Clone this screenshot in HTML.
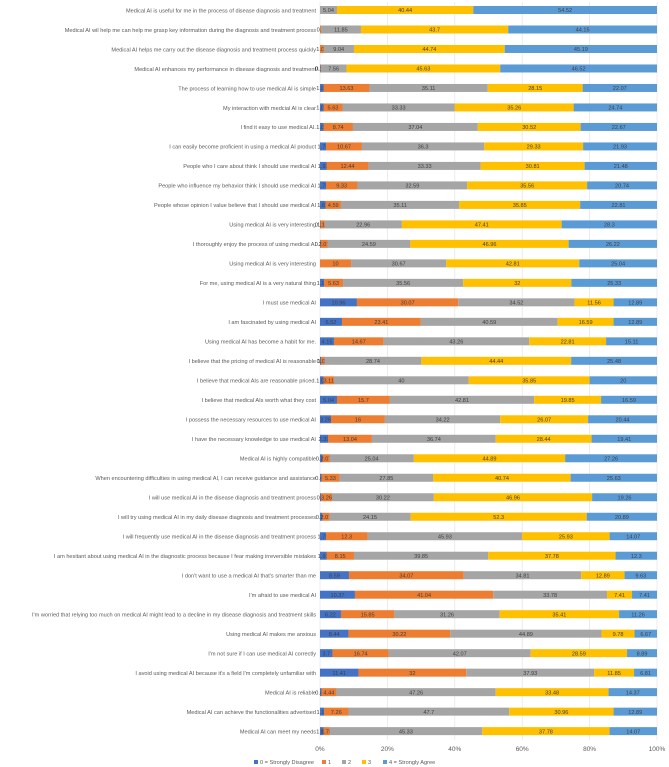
<!DOCTYPE html>
<html><head><meta charset="utf-8">
<style>
html,body{margin:0;padding:0;background:#fff;}
svg{display:block;font-family:"Liberation Sans",sans-serif;}
</style></head>
<body>
<svg id="chart" width="669" height="767" viewBox="0 0 669 767"></svg>
<script>
const categories = [
"Medical AI is useful for me in the process of disease diagnosis and treatment",
"Medical AI wil help me can help me grasp key information during the diagnosis and treatment process",
"Medical AI helps me carry out the disease diagnosis and treatment process quickly",
"Medical AI enhances my performance in disease diagnosis and treatment",
"The process of learning how to use medical AI is simple",
"My interaction with medcial AI is clear",
"I find it easy to use medical AI.",
"I can easily become proficient in using a medical AI product",
"People who I care about think I should use medical AI",
"People who influence my behavior think I should use medical AI",
"People whose opinion I value believe that I should use medical AI",
"Using medical AI is very interesting",
"I thoroughly enjoy the process of using medical AI",
"Using medical AI is very interesting",
"For me, using medical AI is a very natural thing",
"I must use medical AI",
"I am fascinated by using medical AI",
"Using medical AI has become a habit for me.",
"I believe that the pricing of medical AI is reasonable",
"I believe that medical AIs are reasonable priced.",
"I believe that medical AIs worth what they cost",
"I possess the necessary resources to use medical AI",
"I have the necessary knowledge to use medical AI",
"Medical AI is highly compatible",
"When encountering difficulties in using medical AI, I can receive guidance and assistance",
"I will use medical AI in the disease diagnosis and treatment process",
"I will try using medical AI in my daily disease diagnosis and treatment processes",
"I will frequently use medical AI in the disease diagnosis and treatment process",
"I am hesitant about using medical AI in the diagnostic process because I fear making irreversible mistakes",
"I don't want to use a medical AI that's smarter than me",
"I'm afraid to use medical AI",
"I'm worried that relying too much on medical AI might lead to a decline in my disease diagnosis and treatment skills",
"Using medical AI makes me anxious",
"I'm not sure if I can use medical AI correctly",
"I avoid using medical AI because it's a field I'm completely unfamiliar with",
"Medical AI is reliable",
"Medical AI can achieve the functionalities advertised",
"Medical AI can meet my needs"
];
const s0 = [0,0,0,0.14,1.04,1.04,1.04,1.78,1.93,1.78,1.63,0.15,0.15,0,1.19,10.96,6.52,4.15,0.3,1.04,5.04,3.26,2.37,0.74,0.44,0.3,0.72,1.78,1.93,8.59,10.37,6.22,8.44,3.7,11.41,0.44,1.19,1.04];
const s1 = [0,0.3,1.04,0.15,13.63,5.63,8.74,10.67,12.44,9.33,4.59,1.19,2.07,10,5.63,30.07,23.41,14.67,1.04,3.11,15.7,16,13.04,2.07,5.33,3.26,2.07,12.3,8.15,34.07,41.04,15.85,30.22,16.74,32,4.44,7.26,1.78];
const s2 = [5.04,11.85,9.04,7.56,35.11,33.33,37.04,36.3,33.33,32.59,35.11,22.96,24.59,30.67,35.56,34.52,40.59,43.26,28.74,40,42.81,34.22,36.74,25.04,27.85,30.22,24.15,45.93,39.85,34.81,33.78,31.26,44.89,42.07,37.93,47.26,47.7,45.33];
const s3 = [40.44,43.7,44.74,45.63,28.15,35.26,30.52,29.33,30.81,35.56,35.85,47.41,46.96,42.81,32,11.56,16.59,22.81,44.44,35.85,19.85,26.07,28.44,44.89,40.74,46.96,52.3,25.93,37.78,12.89,7.41,35.41,9.78,28.59,11.85,33.48,30.96,37.78];
const s4 = [54.52,44.15,45.19,46.52,22.07,24.74,22.67,21.93,21.48,20.74,22.81,28.3,26.22,25.04,25.33,12.89,12.89,15.11,25.48,20,16.59,20.44,19.41,27.26,25.63,19.26,20.89,14.07,12.3,9.63,7.41,11.26,6.67,8.89,6.81,14.37,12.89,14.07];
const seriesNames = ["0 = Strongly Disagree","1","2","3","4 = Strongly Agree"];
const tickLabels = ["0%","20%","40%","60%","80%","100%"];

const series=[s0,s1,s2,s3,s4];
const colors=["#4472C4","#ED7D31","#A5A5A5","#FFC000","#5B9BD5"];
const NS="http://www.w3.org/2000/svg";
const svg=document.getElementById('chart');
const X0=320,X1=657,Y0=10,PITCH=19.49,BH=8;
const xs=p=>X0+(X1-X0)*p/100;
const ys=i=>Y0+i*PITCH;
function mk(t,a){const e=document.createElementNS(NS,t);for(const k in a)e.setAttribute(k,a[k]);return e;}

tickLabels.forEach((t,k)=>{
  const x=xs(k*20);
  const g=mk('line',{x1:x,x2:x,y1:2,y2:740,stroke:'#e4e4e4','stroke-width':0.7});
  
  
  svg.appendChild(g);
  const tx=mk('text',{x:x,y:751,'font-size':6.5,fill:'#595959','text-anchor':'middle'});
  tx.textContent=t;
  
  
  svg.appendChild(tx);
});

categories.forEach((c,i)=>{
  const y=ys(i);
  const lb=mk('text',{x:316,y:y+2.3,'font-size':5.6,fill:'#595959','text-anchor':'end'});
  lb.textContent=c;
  
  
  svg.appendChild(lb);
  let tot=0;series.forEach(s=>tot+=s[i]);
  let acc=0;
  series.forEach((s,k)=>{
    const v=s[i];
    const a=xs(acc/tot*100), b=xs((acc+v)/tot*100);
    acc+=v;
    if(v<=0)return;
    const r=mk('rect',{x:a,y:y-BH/2,width:b-a,height:BH,fill:colors[k]});
    
    
    svg.appendChild(r);
    const t=mk('text',{x:(a+b)/2,y:y+2.2,'font-size':5.6,fill:'#404040','text-anchor':'middle'});
    t.textContent=String(v);
    
    
    svg.appendChild(t);
  });
});

const lx=[254,322,342,362,383];
seriesNames.forEach((n,k)=>{
  const r=mk('rect',{x:lx[k],y:760,width:4,height:4,fill:colors[k]});
  
  
  svg.appendChild(r);
  const t=mk('text',{x:lx[k]+6,y:764,'font-size':5.6,fill:'#595959'});
  t.textContent=n;
  
  
  svg.appendChild(t);
});
</script>
</body></html>
